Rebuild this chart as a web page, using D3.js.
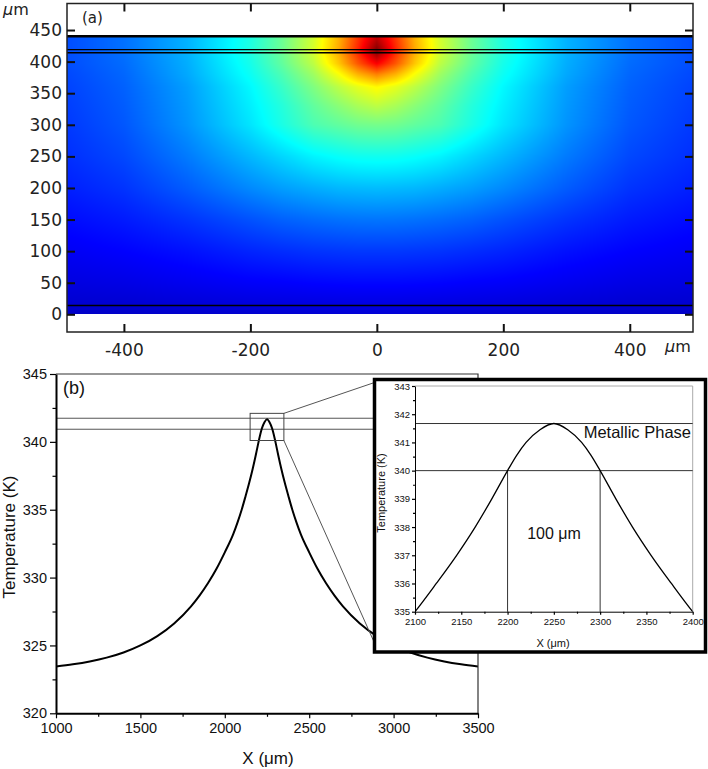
<!DOCTYPE html>
<html>
  <head>
    <meta charset="utf-8">
    <title>Temperature distribution</title>
    <script src="https://cdn.jsdelivr.net/npm/d3@7"></script>
    <style>
      body { margin: 0; background: #fff; }
      svg { display: block; }
      .top text { font-family: "DejaVu Sans", sans-serif; fill: #222; }
      .bot text { font-family: "Liberation Sans", Arial, sans-serif; fill: #111; }
    </style>
  </head>
  <body>
    <svg id="svg" width="708" height="769"></svg>
    <script>
      var gridX = [-490, -400, -300, -200, -150, -100, -60, -30, 0, 30, 60, 100, 150, 200, 300, 400, 500];
      var gridY = [0, 14, 50, 100, 150, 200, 250, 300, 330, 360, 380, 397, 418, 440];
      var gridV = [
        [.070, .072, .075, .078, .080, .082, .084, .085, .085, .085, .084, .082, .080, .078, .075, .072, .070],
        [.078, .080, .085, .090, .092, .093, .094, .095, .095, .095, .094, .093, .092, .090, .085, .080, .078],
        [.095, .100, .110, .120, .123, .127, .129, .130, .130, .130, .129, .127, .123, .120, .110, .100, .095],
        [.115, .125, .140, .160, .168, .175, .178, .180, .180, .180, .178, .175, .168, .160, .140, .125, .115],
        [.135, .150, .175, .205, .220, .230, .236, .239, .240, .239, .236, .230, .220, .205, .175, .150, .135],
        [.155, .175, .215, .260, .280, .295, .305, .308, .310, .308, .305, .295, .280, .260, .215, .175, .155],
        [.170, .195, .245, .305, .335, .365, .380, .388, .390, .388, .380, .365, .335, .305, .245, .195, .170],
        [.180, .210, .270, .350, .400, .450, .470, .485, .490, .485, .470, .450, .400, .350, .270, .210, .180],
        [.185, .215, .275, .360, .410, .470, .510, .540, .560, .540, .510, .470, .410, .360, .275, .215, .185],
        [.190, .220, .280, .370, .430, .500, .560, .600, .630, .600, .560, .500, .430, .370, .280, .220, .190],
        [.195, .225, .290, .385, .450, .530, .620, .700, .750, .700, .620, .530, .450, .385, .290, .225, .195],
        [.200, .230, .295, .395, .470, .560, .680, .790, .880, .790, .680, .560, .470, .395, .295, .230, .200],
        [.200, .235, .300, .405, .480, .585, .710, .840, 1.00, .840, .710, .585, .480, .405, .300, .235, .200],
        [.200, .235, .300, .400, .480, .580, .700, .820, .930, .820, .700, .580, .480, .400, .300, .235, .200]
      ];
      var jetStops = [0, .125, .375, .625, .875, 1];
      var jetColors = ["#00007f", "#0000ff", "#00ffff", "#ffff00", "#ff0000", "#7f0000"];
      var layerLines = [440, 419, 414, 14];
      var topXTicks = [-400, -200, 0, 200, 400];
      var topYTicks = [0, 50, 100, 150, 200, 250, 300, 350, 400, 450];

      // ---- panel (b): temperature profile along the surface
      var posX = [1000, 1100, 1200, 1300, 1400, 1500, 1600, 1700, 1800, 1850, 1900, 1950, 2000, 2050, 2075,
                  2100, 2123, 2145, 2165, 2183, 2200, 2210, 2220, 2235, 2250,
                  2265, 2280, 2290, 2300, 2317, 2335, 2355, 2377, 2400,
                  2425, 2450, 2500, 2550, 2600, 2650, 2700, 2800, 2900, 3000, 3100, 3200, 3300, 3400, 3500];
      var tempK = [323.45, 323.61, 323.82, 324.1, 324.48, 325.0, 325.69, 326.62, 327.88, 328.67, 329.58, 330.63, 331.86, 333.2, 334.05,
                   335.0, 336.0, 337.0, 338.0, 339.0, 340.0, 340.55, 341.0, 341.45, 341.67,
                   341.45, 341.0, 340.55, 340.0, 339.0, 338.0, 337.0, 336.0, 335.0,
                   334.05, 333.2, 331.86, 330.63, 329.58, 328.67, 327.88, 326.62, 325.69, 325.0, 324.48, 324.1, 323.82, 323.61, 323.45];
      var bXTicks = [1000, 1500, 2000, 2500, 3000, 3500];
      var bXMinor = [1250, 1750, 2250, 2750, 3250];
      var bYTicks = [320, 325, 330, 335, 340, 345];
      var bYMinor = [322.5, 327.5, 332.5, 337.5, 342.5];
      var guideT = [341.74, 340.93];
      var zoomX = [2150, 2350];
      var zoomT = [340.1, 342.1];

      // ---- inset
      var inXTicks = [2100, 2150, 2200, 2250, 2300, 2350, 2400];
      var inXMinor = [2125, 2175, 2225, 2275, 2325, 2375];
      var inYTicks = [335, 336, 337, 338, 339, 340, 341, 342, 343];
      var inYMinor = [335.5, 336.5, 337.5, 338.5, 339.5, 340.5, 341.5, 342.5];
      var phaseT = [341.67, 340];
      var phaseX = [2200, 2300];

      var svg = d3.select("#svg");
      var plain = function(d) { return String(d); };

      // ================= panel (a)
      var panelA = svg.append("g").attr("class", "top");
      var xA = d3.scaleLinear().domain([-490, 500]).range([67, 693]);
      var yA = d3.scaleLinear().domain([-28, 492]).range([332, 3.5]);
      var jet = d3.scaleLinear().domain(jetStops).range(jetColors).clamp(true);

      // render field into a canvas, then place it as an image
      var hx0 = Math.round(xA(-490)), hx1 = Math.round(xA(500));
      var hy0 = Math.round(yA(440)), hy1 = Math.round(yA(0));
      var cw = hx1 - hx0, ch = hy1 - hy0;
      var canvas = document.createElement("canvas");
      canvas.width = cw; canvas.height = ch;
      var ctx = canvas.getContext("2d");
      var img = ctx.createImageData(cw, ch);
      function cell(arr, v) {
        var i = d3.bisectRight(arr, v) - 1;
        i = Math.max(0, Math.min(arr.length - 2, i));
        var t = (v - arr[i]) / (arr[i + 1] - arr[i]);
        return [i, Math.max(0, Math.min(1, t))];
      }
      for (var py = 0; py < ch; py++) {
        var cy = cell(gridY, yA.invert(hy0 + py + .5));
        for (var px = 0; px < cw; px++) {
          var cx = cell(gridX, xA.invert(hx0 + px + .5));
          var j = cy[0], i = cx[0], ty = cy[1], tx = cx[1];
          var v = (gridV[j][i] * (1 - tx) + gridV[j][i + 1] * tx) * (1 - ty) +
                  (gridV[j + 1][i] * (1 - tx) + gridV[j + 1][i + 1] * tx) * ty;
          var c = d3.rgb(jet(v));
          var k = (py * cw + px) * 4;
          img.data[k] = c.r; img.data[k + 1] = c.g; img.data[k + 2] = c.b; img.data[k + 3] = 255;
        }
      }
      ctx.putImageData(img, 0, 0);
      panelA.append("image")
        .attr("x", hx0).attr("y", hy0)
        .attr("width", cw).attr("height", ch)
        .attr("preserveAspectRatio", "none")
        .attr("href", canvas.toDataURL());

      panelA.selectAll(".layer")
          .data(layerLines)
        .enter().append("line")
          .attr("x1", xA(-490)).attr("x2", xA(500))
          .attr("y1", function(d) { return yA(d); })
          .attr("y2", function(d) { return yA(d); })
          .attr("stroke", "#000")
          .attr("stroke-width", function(d) { return d === 440 ? 2.5 : 1.4; });

      panelA.append("rect")
        .attr("x", 67).attr("y", 3.5).attr("width", 626).attr("height", 328.5)
        .attr("fill", "none").attr("stroke", "#222").attr("stroke-width", 1.5);

      function styleTop(g) {
        g.select(".domain").remove();
        g.selectAll(".tick line").attr("stroke", "#111").attr("stroke-width", 2);
        g.selectAll("text").attr("font-size", 17);
      }
      panelA.append("g").attr("transform", "translate(67,0)")
        .call(d3.axisLeft(yA).tickValues(topYTicks).tickFormat(plain).tickSizeInner(-8).tickSizeOuter(0).tickPadding(5))
        .call(styleTop);
      panelA.append("g").attr("transform", "translate(693,0)")
        .call(d3.axisRight(yA).tickValues(topYTicks).tickSizeInner(-8).tickSizeOuter(0).tickFormat(""))
        .call(styleTop);
      panelA.append("g").attr("transform", "translate(0,332)")
        .call(d3.axisBottom(xA).tickValues(topXTicks).tickFormat(plain).tickSizeInner(-8).tickSizeOuter(0).tickPadding(12))
        .call(styleTop);
      panelA.append("g").attr("transform", "translate(0,3.5)")
        .call(d3.axisTop(xA).tickValues(topXTicks).tickSizeInner(-8).tickSizeOuter(0).tickFormat(""))
        .call(styleTop);

      var um1 = panelA.append("text").attr("x", 3).attr("y", 15).attr("font-size", 16);
      um1.append("tspan").attr("font-style", "italic").text("μ");
      um1.append("tspan").text("m");
      var um2 = panelA.append("text").attr("x", 665).attr("y", 352).attr("font-size", 16);
      um2.append("tspan").attr("font-style", "italic").text("μ");
      um2.append("tspan").text("m");
      panelA.append("text").attr("x", 82).attr("y", 23).attr("font-size", 15).text("(a)");

      // ================= panel (b)
      var panelB = svg.append("g").attr("class", "bot");
      var xB = d3.scaleLinear().domain([1000, 3500]).range([56, 478]);
      var yB = d3.scaleLinear().domain([320, 345]).range([713.3, 374]);

      panelB.append("clipPath").attr("id", "clipB")
        .append("rect").attr("x", 56).attr("y", 374).attr("width", 422).attr("height", 339.3);

      // guide lines of the zoomed band
      panelB.selectAll(".guide")
          .data(guideT)
        .enter().append("line")
          .attr("x1", xB(1000)).attr("x2", xB(3500))
          .attr("y1", function(d) { return yB(d); })
          .attr("y2", function(d) { return yB(d); })
          .attr("stroke", "#555").attr("stroke-width", 1);

      var line = d3.line()
        .x(function(d, i) { return xB(posX[i]); })
        .y(function(d) { return yB(d); })
        .curve(d3.curveMonotoneX);
      panelB.append("path")
        .datum(tempK)
        .attr("clip-path", "url(#clipB)")
        .attr("d", line)
        .attr("fill", "none").attr("stroke", "#000").attr("stroke-width", 2);

      // frame: top and right thin
      panelB.append("path")
        .attr("d", "M56," + yB(345) + "H" + xB(3500) + "V" + yB(320))
        .attr("fill", "none").attr("stroke", "#333").attr("stroke-width", 1.2);

      function styleBot(g, fs, sw) {
        g.select(".domain").attr("stroke", "#000").attr("stroke-width", sw);
        g.selectAll(".tick line").attr("stroke", "#000").attr("stroke-width", 1.2);
        g.selectAll("text").attr("font-size", fs).attr("fill", "#111");
      }
      panelB.append("g").attr("transform", "translate(56,0)")
        .call(d3.axisLeft(yB).tickValues(bYMinor).tickSize(3.5).tickFormat(""))
        .call(styleBot, 14.5, 0);
      panelB.append("g").attr("transform", "translate(0,713.3)")
        .call(d3.axisBottom(xB).tickValues(bXMinor).tickSize(3.5).tickFormat(""))
        .call(styleBot, 14.5, 0);
      panelB.append("g").attr("transform", "translate(56,0)")
        .call(d3.axisLeft(yB).tickValues(bYTicks).tickFormat(plain).tickSizeInner(6).tickSizeOuter(0).tickPadding(3))
        .call(styleBot, 14.5, 2);
      panelB.append("g").attr("transform", "translate(0,713.3)")
        .call(d3.axisBottom(xB).tickValues(bXTicks).tickFormat(plain).tickSizeInner(5).tickSizeOuter(0).tickPadding(4))
        .call(styleBot, 14.5, 2);

      panelB.append("text")
        .attr("transform", "translate(14.5,537) rotate(-90)")
        .attr("text-anchor", "middle").attr("font-size", 17)
        .text("Temperature (K)");
      panelB.append("text")
        .attr("x", 268).attr("y", 764)
        .attr("text-anchor", "middle").attr("font-size", 17)
        .text("X (μm)");
      panelB.append("text").attr("x", 63).attr("y", 394).attr("font-size", 18).text("(b)");

      // zoom box and connectors
      var zx0 = xB(zoomX[0]), zx1 = xB(zoomX[1]), zy0 = yB(zoomT[1]), zy1 = yB(zoomT[0]);
      panelB.append("rect")
        .attr("x", zx0).attr("y", zy0).attr("width", zx1 - zx0).attr("height", zy1 - zy0)
        .attr("fill", "none").attr("stroke", "#444").attr("stroke-width", 1);

      var ib = { x0: 374.5, y0: 379.5, x1: 705.5, y1: 652 };
      panelB.append("line")
        .attr("x1", zx1).attr("y1", zy0).attr("x2", ib.x0).attr("y2", ib.y0 + 3)
        .attr("stroke", "#555").attr("stroke-width", 1);
      panelB.append("line")
        .attr("x1", zx1).attr("y1", zy1).attr("x2", ib.x0).attr("y2", ib.y1 - 9)
        .attr("stroke", "#555").attr("stroke-width", 1);

      // ================= inset
      var ins = panelB.append("g");
      ins.append("rect")
        .attr("x", ib.x0).attr("y", ib.y0).attr("width", ib.x1 - ib.x0).attr("height", ib.y1 - ib.y0)
        .attr("fill", "#fff").attr("stroke", "#000").attr("stroke-width", 3.5);

      var xI = d3.scaleLinear().domain([2100, 2400]).range([415, 692.7]);
      var yI = d3.scaleLinear().domain([335, 343]).range([611.7, 386]);

      ins.append("clipPath").attr("id", "clipI")
        .append("rect").attr("x", 415).attr("y", 386).attr("width", 277.7).attr("height", 225.7);

      ins.append("path")
        .attr("d", "M415,386H692.7V611.7")
        .attr("fill", "none").attr("stroke", "#aaa").attr("stroke-width", 1);

      ins.selectAll(".phase")
          .data(phaseT)
        .enter().append("line")
          .attr("x1", xI(2100)).attr("x2", xI(2400))
          .attr("y1", function(d) { return yI(d); })
          .attr("y2", function(d) { return yI(d); })
          .attr("stroke", "#333").attr("stroke-width", 1);
      ins.selectAll(".width")
          .data(phaseX)
        .enter().append("line")
          .attr("x1", function(d) { return xI(d); })
          .attr("x2", function(d) { return xI(d); })
          .attr("y1", yI(335)).attr("y2", yI(phaseT[1]))
          .attr("stroke", "#333").attr("stroke-width", 1);

      var lineI = d3.line()
        .x(function(d, i) { return xI(posX[i]); })
        .y(function(d) { return yI(d); })
        .curve(d3.curveMonotoneX);
      ins.append("path")
        .datum(tempK)
        .attr("clip-path", "url(#clipI)")
        .attr("d", lineI)
        .attr("fill", "none").attr("stroke", "#000").attr("stroke-width", 1.3);

      ins.append("g").attr("transform", "translate(415,0)")
        .call(d3.axisLeft(yI).tickValues(inYMinor).tickSize(2).tickFormat(""))
        .call(styleBot, 9.5, 0);
      ins.append("g").attr("transform", "translate(0,611.7)")
        .call(d3.axisBottom(xI).tickValues(inXMinor).tickSize(2).tickFormat(""))
        .call(styleBot, 9.5, 0);
      ins.append("g").attr("transform", "translate(415,0)")
        .call(d3.axisLeft(yI).tickValues(inYTicks).tickFormat(plain).tickSizeInner(3).tickSizeOuter(0).tickPadding(2))
        .call(styleBot, 9.5, 1);
      ins.append("g").attr("transform", "translate(0,611.7)")
        .call(d3.axisBottom(xI).tickValues(inXTicks).tickFormat(plain).tickSizeInner(3).tickSizeOuter(0).tickPadding(4))
        .call(styleBot, 9.5, 1);

      ins.append("text")
        .attr("transform", "translate(385,493) rotate(-90)")
        .attr("text-anchor", "middle").attr("font-size", 11)
        .text("Temperature (K)");
      ins.append("text")
        .attr("x", 553).attr("y", 647)
        .attr("text-anchor", "middle").attr("font-size", 11)
        .text("X (μm)");
      ins.append("text")
        .attr("x", 691).attr("y", 438).attr("text-anchor", "end").attr("font-size", 16.5)
        .text("Metallic Phase");
      ins.append("text")
        .attr("x", 554).attr("y", 539).attr("text-anchor", "middle").attr("font-size", 16)
        .text("100 μm");
    </script>
  </body>
</html>
